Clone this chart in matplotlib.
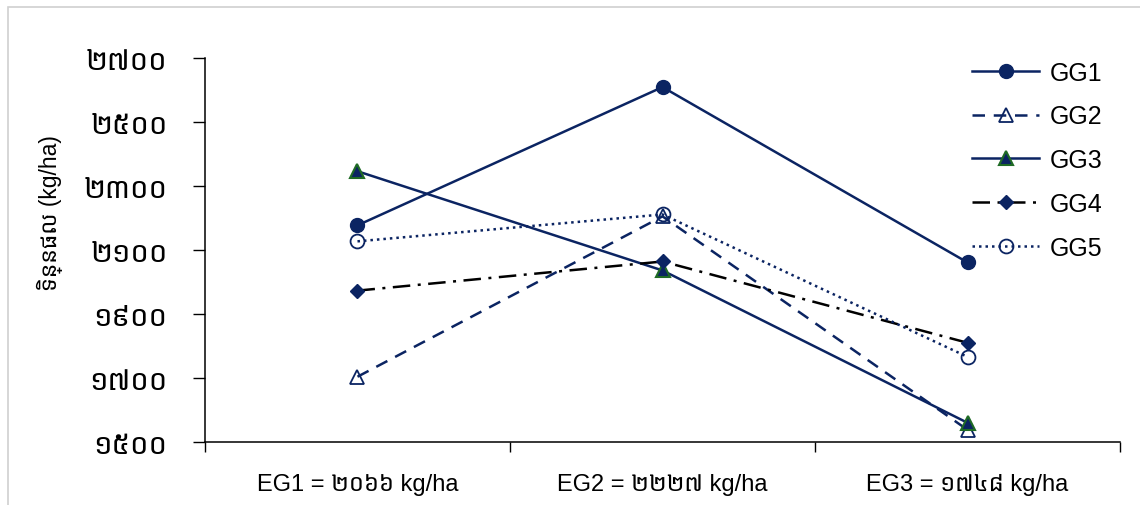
import matplotlib
matplotlib.use("Agg")
import matplotlib.pyplot as plt
from matplotlib.patches import Rectangle

# data
groups = ["EG1", "EG2", "EG3"]
group_means = [2066, 2227, 1748]
gg1 = [2177, 2609, 2061]
gg2 = [1704, 2205, 1538]
gg3 = [2346, 2036, 1560]
gg4 = [1973, 2064, 1810]
gg5 = [2127, 2211, 1766]
y_ticks = [1500, 1700, 1900, 2100, 2300, 2500, 2700]

NAVY = "#0b2462"
GREEN = "#1f6b25"
FONTS = ["Liberation Sans", "Noto Sans Khmer", "DejaVu Sans"]
plt.rcParams["font.family"] = FONTS

KHMER_DIGITS = "០១២៣៤៥៦៧៨៩"


def khmer_num(n: int) -> str:
    return "".join(KHMER_DIGITS[int(c)] for c in str(n))


fig = plt.figure(figsize=(11.4, 5.06), dpi=100)
ax = fig.add_axes([0.1798, 0.1245, 0.8027, 0.759])

# light frame of the chart area
fig.patches.append(Rectangle((0.007, -0.05), 1.2, 1.034, transform=fig.transFigure,
                             fill=False, edgecolor="#d0d0d0", linewidth=1.2))

x = list(range(len(groups)))
series = [
    ("GG1", gg1, dict(color=NAVY, linestyle="-", marker="o", markersize=10,
                      markerfacecolor=NAVY, markeredgecolor=NAVY)),
    ("GG2", gg2, dict(color=NAVY, linestyle=(0, (5, 3.5)), marker="^", markersize=9.5,
                      markerfacecolor="none", markeredgecolor=NAVY, markeredgewidth=1.3)),
    ("GG3", gg3, dict(color=NAVY, linestyle="-", marker="^", markersize=10,
                      markerfacecolor=NAVY, markeredgecolor=GREEN, markeredgewidth=1.5)),
    ("GG4", gg4, dict(color="black", linestyle=(0, (7, 3, 1.2, 3)), marker="D", markersize=7.5,
                      markerfacecolor=NAVY, markeredgecolor=NAVY)),
    ("GG5", gg5, dict(color=NAVY, linestyle=(0, (1, 1.6)), marker="o", markersize=10,
                      markerfacecolor="none", markeredgecolor=NAVY, markeredgewidth=1.3)),
]
for name, vals, style in series:
    ax.plot(x, vals, linewidth=1.8, label=name, **style)

ax.set_xlim(-0.5, 2.5)
ax.set_ylim(1500, 2700)
ax.set_yticks(y_ticks)
ax.set_yticklabels([khmer_num(v) for v in y_ticks], fontsize=21)

ax.set_xticks([i - 0.5 for i in range(len(groups) + 1)])
ax.set_xticklabels([])
ax.set_xticks(x, minor=True)
ax.set_xticklabels([f"{g} = {khmer_num(m)} kg/ha" for g, m in zip(groups, group_means)],
                   minor=True, fontsize=17)
ax.tick_params(axis="x", which="major", direction="out", length=7, width=1)
ax.tick_params(axis="x", which="minor", length=0, pad=22)
ax.tick_params(axis="y", direction="out", length=9, width=1, pad=18)

for side in ("top", "right"):
    ax.spines[side].set_visible(False)
for side in ("left", "bottom"):
    ax.spines[side].set_linewidth(1.1)

ax.set_ylabel("ទិន្នផល (kg/ha)", fontsize=16.5)
ax.yaxis.set_label_coords(-0.155, 0.60)

ax.legend(loc="upper left", bbox_to_anchor=(0.838, 0.993), frameon=False, fontsize=18,
          handlelength=2.7, labelspacing=0.79, handletextpad=0.4,
          borderpad=0, borderaxespad=0)

fig.savefig("out.png", dpi=100)
